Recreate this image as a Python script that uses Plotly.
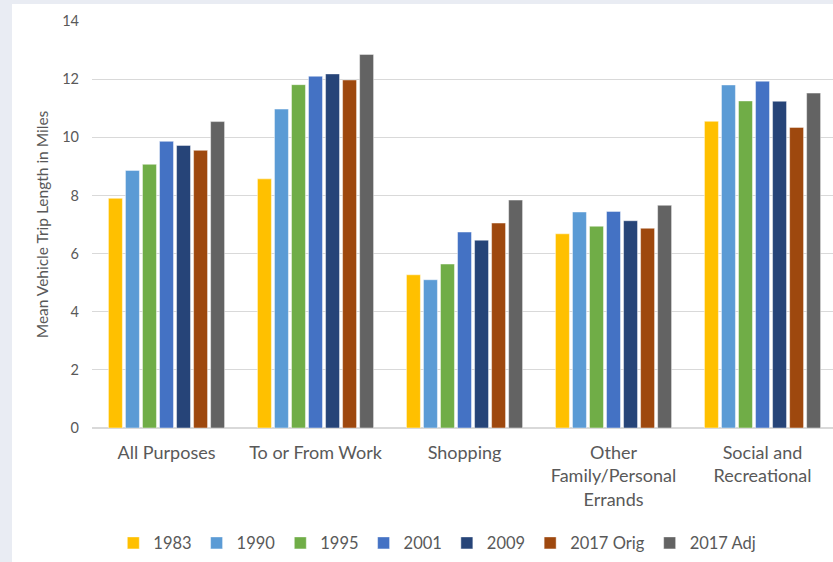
import plotly.graph_objects as go

# Trip purposes (category axis)
purposes = [
    "All Purposes",
    "To or From Work",
    "Shopping",
    "Other<br>Family/Personal<br>Errands",
    "Social and<br>Recreational",
]

# Survey series
survey_names = ["1983", "1990", "1995", "2001", "2009", "2017 Orig", "2017 Adj"]

# Mean vehicle trip length (miles) per survey, ordered as in `purposes`
miles_1983 = [7.90, 8.57, 5.27, 6.68, 10.55]
miles_1990 = [8.86, 10.97, 5.10, 7.43, 11.80]
miles_1995 = [9.07, 11.81, 5.64, 6.94, 11.25]
miles_2001 = [9.86, 12.10, 6.74, 7.45, 11.93]
miles_2009 = [9.72, 12.18, 6.46, 7.13, 11.24]
miles_2017_orig = [9.55, 11.97, 7.05, 6.87, 10.34]
miles_2017_adj = [10.54, 12.85, 7.84, 7.66, 11.52]

series_values = [
    miles_1983, miles_1990, miles_1995, miles_2001,
    miles_2009, miles_2017_orig, miles_2017_adj,
]

bar_colors = ["#FFC000", "#5B9BD5", "#70AD47", "#4472C4",
              "#264478", "#9E480E", "#636363"]

y_ticks = [0, 2, 4, 6, 8, 10, 12, 14]

FONT = "Lato, 'Open Sans', sans-serif"
TEXT_COLOR = "#595959"
GRID_COLOR = "#d9d9d9"

fig = go.Figure()
for name, vals, color in zip(survey_names, series_values, bar_colors):
    fig.add_trace(go.Bar(
        name=name,
        x=purposes,
        y=vals,
        marker=dict(color=color, line=dict(color="rgba(255,255,255,0.6)", width=0.75)),
    ))

# White card on a pale grey page
fig.add_shape(
    type="rect", xref="paper", yref="paper",
    x0=-80 / 741, x1=1.05, y0=-140 / 407, y1=1 + 17 / 407,
    fillcolor="white", line=dict(width=0), layer="below",
)

fig.update_layout(
    width=833,
    height=562,
    autosize=False,
    margin=dict(l=92, r=0, t=21, b=134),
    paper_bgcolor="#e9ecf3",
    plot_bgcolor="rgba(0,0,0,0)",
    barmode="group",
    bargap=0.2,
    bargroupgap=0.18,
    font=dict(family=FONT, color=TEXT_COLOR),
    showlegend=True,
    legend=dict(
        orientation="h",
        x=0.466, xanchor="center",
        y=-0.283, yanchor="middle",
        font=dict(size=16.5, color=TEXT_COLOR),
        itemwidth=30,
        bgcolor="rgba(0,0,0,0)",
    ),
    xaxis=dict(
        type="category",
        range=[-0.5, 4.473],
        showgrid=False,
        showline=False,
        zeroline=False,
        ticks="",
        tickfont=dict(size=18, color=TEXT_COLOR),
        ticklabelstandoff=12,
    ),
    yaxis=dict(
        range=[0, 14],
        tickvals=y_ticks,
        showgrid=True,
        gridcolor=GRID_COLOR,
        gridwidth=1,
        zeroline=True,
        zerolinecolor=GRID_COLOR,
        zerolinewidth=1.5,
        showline=False,
        ticks="",
        tickfont=dict(size=14.5, color=TEXT_COLOR),
        ticklabelstandoff=12,
        title=dict(
            text="Mean Vehicle Trip Length in Miles",
            font=dict(size=15.5, color=TEXT_COLOR),
            standoff=9,
        ),
    ),
)

fig.write_html("out.html")
